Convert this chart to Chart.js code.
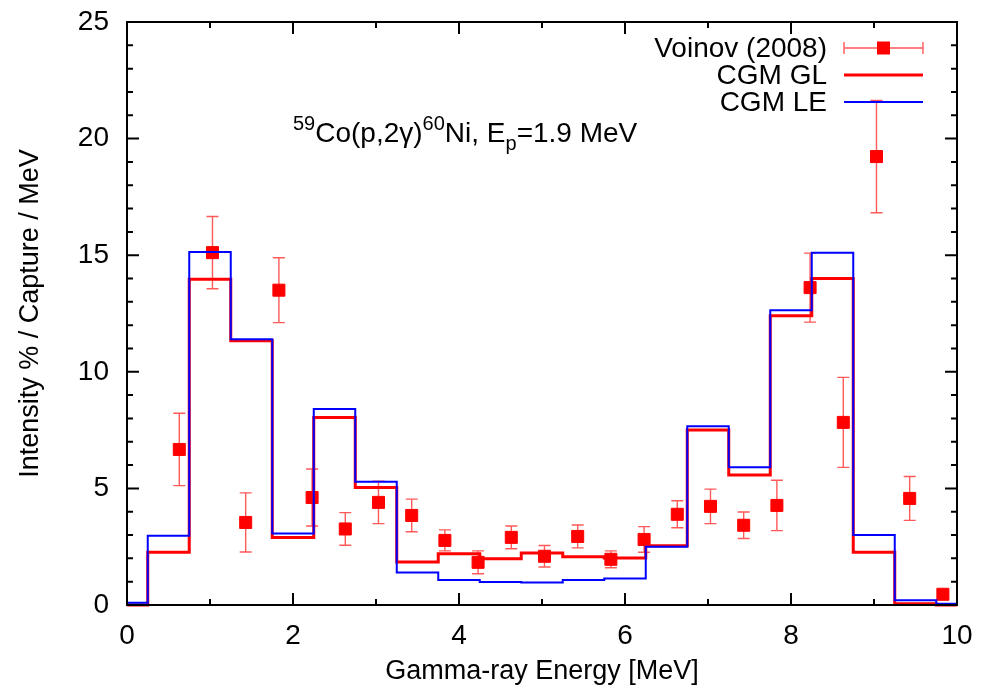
<!DOCTYPE html>
<html>
<head>
<meta charset="utf-8">
<script src="https://cdn.jsdelivr.net/npm/chart.js@4.4.1/dist/chart.umd.min.js"></script>
<style>
  html, body { margin: 0; padding: 0; background: #fff; }
</style>
</head>
<body>
<canvas id="spectrum" width="989" height="691"></canvas>
<script>
// bin edges of the CGM histograms (MeV)
const binEdges = [0, 0.25, 0.75, 1.25, 1.75, 2.25, 2.75, 3.25, 3.75, 4.25, 4.75,
  5.25, 5.75, 6.25, 6.75, 7.25, 7.75, 8.25, 8.75, 9.25, 9.75, 10];
// one value per bin
const cgmGL = [0, 2.26, 13.97, 11.33, 2.89, 8.04, 5.04, 1.84, 2.2, 1.98, 2.23,
  2.07, 2.02, 2.54, 7.5, 5.57, 12.4, 14.0, 2.26, 0.05, 0];
const cgmLE = [0.1, 2.97, 15.14, 11.4, 3.07, 8.4, 5.29, 1.39, 1.07, 0.99, 0.97,
  1.07, 1.14, 2.5, 7.67, 5.91, 12.64, 15.11, 3.0, 0.2, 0.05];

// Voinov (2008) data
const energies = [0.63, 1.03, 1.43, 1.83, 2.23, 2.63, 3.03, 3.43, 3.83, 4.23, 4.63, 5.03,
  5.43, 5.83, 6.23, 6.63, 7.03, 7.43, 7.83, 8.23, 8.63, 9.03, 9.43, 9.83];
const intensity = [6.67, 15.11, 3.54, 13.5, 4.61, 3.26, 4.4, 3.84, 2.77, 1.83, 2.9, 2.09,
  2.94, 1.96, 2.81, 3.89, 4.23, 3.42, 4.27, 13.61, 7.83, 19.23, 4.57, 0.46];
const errors = [1.55, 1.55, 1.27, 1.39, 1.22, 0.7, 0.91, 0.7, 0.45, 0.49, 0.49, 0.46,
  0.49, 0.36, 0.55, 0.58, 0.74, 0.57, 1.08, 1.48, 1.93, 2.41, 0.94, 0.1];

const xTicks = [0, 2, 4, 6, 8, 10];
const yTicks = [0, 5, 10, 15, 20, 25];

const FONT = "'Liberation Sans', Arial, sans-serif";

function histPoints(values) {
  const pts = values.map((v, i) => ({ x: binEdges[i], y: v }));
  pts.push({ x: binEdges[binEdges.length - 1], y: values[values.length - 1] });
  return pts;
}

function drawErrorBar(ctx, px, top, bot, cap) {
  ctx.beginPath();
  ctx.moveTo(px, top); ctx.lineTo(px, bot);
  ctx.moveTo(px - cap, top); ctx.lineTo(px + cap, top);
  ctx.moveTo(px - cap, bot); ctx.lineTo(px + cap, bot);
  ctx.stroke();
}

const gnuplotLook = {
  id: 'gnuplotLook',
  beforeDatasetsDraw(chart) {
    const { ctx, scales: { x, y } } = chart;
    ctx.save();
    ctx.strokeStyle = 'rgba(255,0,0,0.65)';
    ctx.lineWidth = 1.4;
    energies.forEach((e, i) => {
      drawErrorBar(ctx, x.getPixelForValue(e),
        y.getPixelForValue(intensity[i] + errors[i]),
        y.getPixelForValue(intensity[i] - errors[i]), 6);
    });
    ctx.restore();
  },
  afterDatasetsDraw(chart) {
    const { ctx, chartArea: a, scales: { x, y } } = chart;
    ctx.save();
    // frame
    ctx.strokeStyle = '#000';
    ctx.lineWidth = 2;
    ctx.strokeRect(a.left, a.top, a.right - a.left, a.bottom - a.top);
    // inward ticks, mirrored
    ctx.beginPath();
    for (let v = 0; v <= 10; v++) {
      const px = x.getPixelForValue(v);
      const len = v % 2 === 0 ? 12 : 6;
      ctx.moveTo(px, a.bottom); ctx.lineTo(px, a.bottom - len);
      ctx.moveTo(px, a.top); ctx.lineTo(px, a.top + len);
    }
    for (let v = 0; v <= 25; v++) {
      const py = y.getPixelForValue(v);
      const len = v % 5 === 0 ? 12 : 6;
      ctx.moveTo(a.left, py); ctx.lineTo(a.left + len, py);
      ctx.moveTo(a.right, py); ctx.lineTo(a.right - len, py);
    }
    ctx.stroke();

    // key
    const ds = chart.data.datasets;
    const textRight = 827, x0 = 844, x1 = 923;
    const rows = [48, 75, 102];
    ctx.font = '28px ' + FONT;
    ctx.fillStyle = '#000';
    ctx.textAlign = 'right';
    ctx.textBaseline = 'middle';
    [0, 1, 2].forEach(i => ctx.fillText(ds[i].label, textRight, rows[i] + 1));
    ctx.strokeStyle = 'rgba(255,0,0,0.65)';
    ctx.lineWidth = 1.4;
    ctx.beginPath();
    ctx.moveTo(x0, rows[0]); ctx.lineTo(x1, rows[0]);
    ctx.moveTo(x0, rows[0] - 6); ctx.lineTo(x0, rows[0] + 6);
    ctx.moveTo(x1, rows[0] - 6); ctx.lineTo(x1, rows[0] + 6);
    ctx.stroke();
    ctx.fillStyle = '#ff0000';
    ctx.fillRect((x0 + x1) / 2 - 6.5, rows[0] - 6.5, 13, 13);
    ctx.lineWidth = ds[1].borderWidth;
    ctx.strokeStyle = ds[1].borderColor;
    ctx.beginPath(); ctx.moveTo(x0, rows[1]); ctx.lineTo(x1, rows[1]); ctx.stroke();
    ctx.lineWidth = ds[2].borderWidth;
    ctx.strokeStyle = ds[2].borderColor;
    ctx.beginPath(); ctx.moveTo(x0, rows[2]); ctx.lineTo(x1, rows[2]); ctx.stroke();

    // reaction label
    const parts = [
      { t: '59', s: 20, dy: -12 },
      { t: 'Co(p,2\u03b3)', s: 28, dy: 0 },
      { t: '60', s: 20, dy: -12 },
      { t: 'Ni, E', s: 28, dy: 0 },
      { t: 'p', s: 20, dy: 8 },
      { t: '=1.9 MeV', s: 28, dy: 0 }
    ];
    let cx = 293;
    const base = 142;
    ctx.fillStyle = '#000';
    ctx.textAlign = 'left';
    ctx.textBaseline = 'alphabetic';
    parts.forEach(p => {
      ctx.font = p.s + 'px ' + FONT;
      ctx.fillText(p.t, cx, base + p.dy);
      cx += ctx.measureText(p.t).width;
    });
    ctx.restore();
  }
};

const ctx = document.getElementById('spectrum').getContext('2d');
new Chart(ctx, {
  type: 'scatter',
  data: {
    datasets: [
      {
        label: 'Voinov (2008)',
        data: energies.map((e, i) => ({ x: e, y: intensity[i] })),
        pointStyle: 'rect',
        pointRadius: 8.5,
        pointBorderWidth: 1,
        backgroundColor: '#ff0000',
        borderColor: '#ff0000',
        showLine: false,
        order: 3
      },
      {
        label: 'CGM GL',
        data: histPoints(cgmGL),
        showLine: true,
        stepped: 'before',
        borderColor: '#ff0000',
        borderWidth: 3,
        pointRadius: 0,
        fill: false,
        clip: 4,
        order: 2
      },
      {
        label: 'CGM LE',
        data: histPoints(cgmLE),
        showLine: true,
        stepped: 'before',
        borderColor: '#0000ff',
        borderWidth: 2,
        pointRadius: 0,
        fill: false,
        clip: 4,
        order: 1
      }
    ]
  },
  options: {
    responsive: false,
    animation: false,
    devicePixelRatio: 1,
    layout: { padding: { top: 22, right: 32, left: 0, bottom: 0 } },
    plugins: { legend: { display: false }, tooltip: { enabled: false } },
    scales: {
      x: {
        type: 'linear', min: 0, max: 10,
        afterFit: s => { s.height = 86; s.paddingLeft = 0; s.paddingRight = 0; },
        afterBuildTicks: s => { s.ticks = xTicks.map(v => ({ value: v })); },
        grid: { display: false, drawTicks: false },
        border: { display: false },
        ticks: { padding: 14, color: '#000', font: { family: FONT, size: 28 }, maxRotation: 0 },
        title: { display: true, text: 'Gamma-ray Energy [MeV]', color: '#000',
          font: { family: FONT, size: 27 }, padding: { top: 0, bottom: 3 } }
      },
      y: {
        type: 'linear', min: 0, max: 25,
        afterFit: s => { s.width = 127; s.paddingTop = 0; s.paddingBottom = 0; },
        afterBuildTicks: s => { s.ticks = yTicks.map(v => ({ value: v })); },
        grid: { display: false, drawTicks: false },
        border: { display: false },
        ticks: { padding: 18, color: '#000', font: { family: FONT, size: 28 } },
        title: { display: true, text: 'Intensity % / Capture / MeV', color: '#000',
          font: { family: FONT, size: 27 }, padding: { top: 14, bottom: 0 } }
      }
    }
  },
  plugins: [gnuplotLook]
});
</script>
</body>
</html>
